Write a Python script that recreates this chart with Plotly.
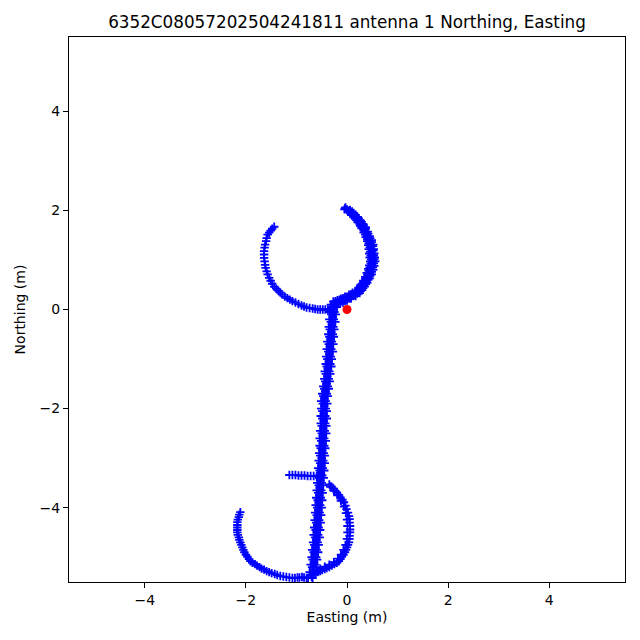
import plotly.graph_objects as go

title_text = "6352C08057202504241811 antenna 1 Northing, Easting"
tick_vals = [-4, -2, 0, 2, 4]
tick_labels = ["\u22124", "\u22122", "0", "2", "4"]

# upper arc, right (thick) side: several overlapping passes
arc1a_e = [-0.03, 0.06, 0.13, 0.21, 0.27, 0.32, 0.37, 0.41, 0.45, 0.49, 0.52, 0.53, 0.54, 0.55, 0.56,
           0.54, 0.52, 0.49, 0.45, 0.40, 0.35, 0.30, 0.25, 0.17, 0.08, 0.00, -0.08, -0.17, -0.25]
arc1a_n = [2.06, 2.01, 1.95, 1.87, 1.80, 1.73, 1.66, 1.57, 1.48, 1.40, 1.31, 1.22, 1.13, 1.05, 0.97,
           0.88, 0.80, 0.71, 0.63, 0.54, 0.46, 0.39, 0.33, 0.27, 0.22, 0.18, 0.14, 0.11, 0.09]
arc1b_e = [-0.05, 0.02, 0.09, 0.16, 0.21, 0.26, 0.29, 0.33, 0.37, 0.40, 0.42, 0.43, 0.44, 0.45, 0.46,
           0.44, 0.42, 0.39, 0.36, 0.32, 0.27, 0.23, 0.19, 0.11, 0.04, -0.04, -0.12, -0.19, -0.27]
arc1b_n = [2.02, 1.97, 1.91, 1.83, 1.76, 1.69, 1.64, 1.55, 1.46, 1.38, 1.30, 1.22, 1.13, 1.05, 0.97,
           0.89, 0.82, 0.74, 0.66, 0.58, 0.50, 0.44, 0.38, 0.34, 0.30, 0.26, 0.22, 0.19, 0.16]
arc1c_e = [-0.04, 0.04, 0.11, 0.18, 0.24, 0.29, 0.33, 0.37, 0.41, 0.44, 0.47, 0.48, 0.49, 0.50, 0.51,
           0.49, 0.47, 0.44, 0.41, 0.36, 0.31, 0.27, 0.22, 0.14, 0.06, -0.02, -0.10, -0.18, -0.26]
arc1c_n = [2.04, 1.99, 1.93, 1.85, 1.78, 1.71, 1.65, 1.56, 1.47, 1.39, 1.31, 1.22, 1.13, 1.05, 0.97,
           0.89, 0.81, 0.73, 0.65, 0.56, 0.48, 0.42, 0.36, 0.31, 0.26, 0.22, 0.18, 0.15, 0.12]
arc1d_e = [0.00, 0.08, 0.15, 0.21, 0.27, 0.31, 0.35, 0.39, 0.43, 0.46, 0.48, 0.49, 0.50, 0.51, 0.50,
           0.48, 0.46, 0.43, 0.39, 0.34, 0.29, 0.25, 0.18, 0.10, 0.02, -0.06, -0.14, -0.22]
arc1d_n = [2.02, 1.96, 1.89, 1.82, 1.75, 1.68, 1.61, 1.52, 1.43, 1.35, 1.27, 1.18, 1.09, 1.01, 0.93,
           0.85, 0.77, 0.69, 0.61, 0.52, 0.45, 0.39, 0.34, 0.29, 0.24, 0.20, 0.17, 0.14]
arc1e_e = [0.10, 0.17, 0.23, 0.29, 0.33, 0.37, 0.42, 0.46, 0.49, 0.51, 0.52, 0.53, 0.54, 0.53,
           0.51, 0.49, 0.46, 0.42, 0.37, 0.32, 0.27, 0.20, 0.12, 0.04, -0.04, -0.13, -0.21]
arc1e_n = [1.98, 1.91, 1.84, 1.77, 1.70, 1.63, 1.53, 1.44, 1.36, 1.28, 1.19, 1.09, 1.01, 0.93,
           0.85, 0.76, 0.68, 0.60, 0.51, 0.43, 0.37, 0.32, 0.27, 0.22, 0.17, 0.14, 0.11]
arc1f_e = [0.06, 0.13, 0.19, 0.25, 0.29, 0.33, 0.36, 0.40, 0.43, 0.45, 0.46, 0.47, 0.48, 0.47,
           0.45, 0.43, 0.40, 0.36, 0.31, 0.26, 0.23, 0.16, 0.08, 0.00, -0.08, -0.15, -0.23]
arc1f_n = [1.94, 1.87, 1.80, 1.73, 1.66, 1.59, 1.51, 1.42, 1.34, 1.26, 1.17, 1.09, 1.01, 0.93,
           0.85, 0.78, 0.70, 0.62, 0.53, 0.47, 0.41, 0.36, 0.31, 0.26, 0.23, 0.20, 0.17]
# upper arc, left (thin) side
arc2_e = [-0.33, -0.38, -0.43, -0.48, -0.53, -0.58, -0.63, -0.68, -0.74, -0.80, -0.85, -0.90, -0.96,
          -1.02, -1.08, -1.13, -1.18, -1.23, -1.28, -1.32, -1.36, -1.40, -1.44, -1.48, -1.51, -1.54,
          -1.57, -1.59, -1.61, -1.62, -1.63, -1.64, -1.64, -1.64, -1.63, -1.62, -1.60, -1.59, -1.57,
          -1.54, -1.51, -1.48, -1.44]
arc2_n = [0.01, 0.00, 0.00, 0.00, 0.00, 0.00, 0.01, 0.02, 0.03, 0.04, 0.06, 0.08, 0.11,
          0.14, 0.17, 0.20, 0.23, 0.26, 0.30, 0.34, 0.38, 0.42, 0.46, 0.52, 0.58, 0.64,
          0.71, 0.77, 0.84, 0.90, 0.97, 1.04, 1.11, 1.18, 1.25, 1.31, 1.38, 1.44, 1.51,
          1.55, 1.59, 1.63, 1.67]
# stem: five overlapping passes
stema_e = [-0.32, -0.34, -0.35, -0.36, -0.37, -0.39, -0.40, -0.41, -0.42, -0.44, -0.45, -0.47, -0.49,
           -0.51, -0.51, -0.52, -0.52, -0.53, -0.54, -0.54, -0.55, -0.56, -0.57, -0.58, -0.59, -0.60,
           -0.61, -0.62, -0.63, -0.64, -0.65, -0.66, -0.67, -0.69, -0.70, -0.72, -0.74, -0.77]
stema_n = [0.10, -0.05, -0.20, -0.35, -0.50, -0.65, -0.80, -0.95, -1.10, -1.25, -1.40, -1.55, -1.70,
           -1.85, -2.00, -2.15, -2.30, -2.45, -2.60, -2.75, -2.90, -3.05, -3.20, -3.35, -3.50, -3.65,
           -3.80, -3.95, -4.10, -4.25, -4.40, -4.55, -4.70, -4.85, -5.00, -5.15, -5.30, -5.42]
stemb_e = [-0.20, -0.22, -0.23, -0.25, -0.26, -0.27, -0.28, -0.30, -0.31, -0.33, -0.34, -0.36, -0.38,
           -0.39, -0.40, -0.40, -0.41, -0.41, -0.42, -0.43, -0.44, -0.44, -0.45, -0.46, -0.47, -0.48,
           -0.49, -0.50, -0.51, -0.52, -0.53, -0.54, -0.56, -0.57, -0.59, -0.60, -0.63]
stemb_n = [0.05, -0.10, -0.25, -0.40, -0.55, -0.70, -0.85, -1.00, -1.15, -1.30, -1.45, -1.60, -1.75,
           -1.90, -2.05, -2.20, -2.35, -2.50, -2.65, -2.80, -2.95, -3.10, -3.25, -3.40, -3.55, -3.70,
           -3.85, -4.00, -4.15, -4.30, -4.45, -4.60, -4.75, -4.90, -5.05, -5.20, -5.35]
stemc_e = [-0.27, -0.28, -0.30, -0.31, -0.32, -0.34, -0.35, -0.36, -0.38, -0.39, -0.41, -0.43, -0.45,
           -0.45, -0.46, -0.46, -0.47, -0.48, -0.48, -0.49, -0.50, -0.51, -0.52, -0.53, -0.54, -0.55,
           -0.56, -0.57, -0.58, -0.59, -0.60, -0.61, -0.62, -0.64, -0.65, -0.67, -0.70]
stemc_n = [0.00, -0.15, -0.30, -0.45, -0.60, -0.75, -0.90, -1.05, -1.20, -1.35, -1.50, -1.65, -1.80,
           -1.95, -2.10, -2.25, -2.40, -2.55, -2.70, -2.85, -3.00, -3.15, -3.30, -3.45, -3.60, -3.75,
           -3.90, -4.05, -4.20, -4.35, -4.50, -4.65, -4.80, -4.95, -5.10, -5.25, -5.40]
stemd_e = [-0.30, -0.31, -0.32, -0.34, -0.35, -0.36, -0.37, -0.39, -0.40, -0.42, -0.43, -0.45, -0.47,
           -0.48, -0.49, -0.49, -0.50, -0.50, -0.51, -0.52, -0.53, -0.53, -0.54, -0.55, -0.56, -0.57,
           -0.58, -0.59, -0.60, -0.61, -0.62, -0.63, -0.65, -0.66, -0.68, -0.69, -0.72]
stemd_n = [0.05, -0.10, -0.25, -0.40, -0.55, -0.70, -0.85, -1.00, -1.15, -1.30, -1.45, -1.60, -1.75,
           -1.90, -2.05, -2.20, -2.35, -2.50, -2.65, -2.80, -2.95, -3.10, -3.25, -3.40, -3.55, -3.70,
           -3.85, -4.00, -4.15, -4.30, -4.45, -4.60, -4.75, -4.90, -5.05, -5.20, -5.35]
steme_e = [-0.23, -0.25, -0.26, -0.27, -0.28, -0.30, -0.31, -0.32, -0.33, -0.35, -0.36, -0.38, -0.40,
           -0.42, -0.42, -0.43, -0.43, -0.44, -0.45, -0.45, -0.46, -0.47, -0.48, -0.49, -0.50, -0.51,
           -0.52, -0.53, -0.54, -0.55, -0.56, -0.57, -0.58, -0.60, -0.61, -0.63, -0.65, -0.68]
steme_n = [0.10, -0.05, -0.20, -0.35, -0.50, -0.65, -0.80, -0.95, -1.10, -1.25, -1.40, -1.55, -1.70,
           -1.85, -2.00, -2.15, -2.30, -2.45, -2.60, -2.75, -2.90, -3.05, -3.20, -3.35, -3.50, -3.65,
           -3.80, -3.95, -4.10, -4.25, -4.40, -4.55, -4.70, -4.85, -5.00, -5.15, -5.30, -5.42]
# short stub at about -3.35
stub_e = [-1.14, -1.08, -1.02, -0.96, -0.90, -0.84, -0.78, -0.72, -0.66, -0.60]
stub_n = [-3.34, -3.34, -3.34, -3.35, -3.35, -3.35, -3.36, -3.36, -3.36, -3.37]
# lower arc, right side
arc3_e = [-0.35, -0.31, -0.27, -0.24, -0.20, -0.16, -0.13, -0.09, -0.06, -0.03, -0.01, 0.02, 0.04,
          0.05, 0.05, 0.06, 0.06, 0.06, 0.05, 0.05, 0.04, 0.02, 0.00, -0.02, -0.04, -0.07, -0.10,
          -0.13, -0.16, -0.20, -0.25, -0.30, -0.35, -0.40, -0.44, -0.49, -0.53, -0.58, -0.62]
arc3_n = [-3.53, -3.57, -3.61, -3.65, -3.69, -3.74, -3.79, -3.84, -3.89, -3.96, -4.03, -4.10, -4.17,
          -4.23, -4.30, -4.37, -4.44, -4.50, -4.57, -4.63, -4.70, -4.75, -4.80, -4.85, -4.90, -4.95, -4.99,
          -5.04, -5.08, -5.11, -5.14, -5.17, -5.20, -5.22, -5.24, -5.26, -5.28, -5.30, -5.32]
arc3b_e = [-0.33, -0.26, -0.19, -0.12, -0.06, -0.02, 0.00, 0.01, 0.01, 0.00, -0.03, -0.07, -0.12,
           -0.18, -0.26, -0.35, -0.44, -0.53]
arc3b_n = [-3.58, -3.66, -3.75, -3.86, -3.98, -4.11, -4.24, -4.37, -4.50, -4.63, -4.75, -4.85, -4.95,
           -5.03, -5.10, -5.15, -5.19, -5.23]
# lower arc, left side
arc4_e = [-0.80, -0.85, -0.89, -0.94, -0.98, -1.03, -1.08, -1.14, -1.20, -1.26, -1.32, -1.38, -1.43,
          -1.49, -1.54, -1.59, -1.64, -1.69, -1.73, -1.78, -1.82, -1.87, -1.91, -1.94, -1.97, -2.00,
          -2.03, -2.05, -2.07, -2.09, -2.11, -2.13, -2.14, -2.16, -2.17, -2.17, -2.17, -2.17, -2.17,
          -2.16, -2.14, -2.13, -2.11]
arc4_n = [-5.42, -5.41, -5.40, -5.41, -5.41, -5.42, -5.42, -5.41, -5.40, -5.39, -5.38, -5.36, -5.34,
          -5.32, -5.30, -5.28, -5.25, -5.23, -5.20, -5.17, -5.14, -5.11, -5.08, -5.04, -4.99, -4.95,
          -4.90, -4.85, -4.80, -4.75, -4.70, -4.65, -4.60, -4.55, -4.50, -4.45, -4.40, -4.35, -4.29,
          -4.24, -4.19, -4.14, -4.09]

origin_e = [0.0]
origin_n = [0.0]

easting = (arc1a_e + arc1b_e + arc1c_e + arc1d_e + arc1e_e + arc1f_e + arc2_e
           + stema_e + stemb_e + stemc_e + stemd_e + steme_e
           + stub_e + arc3_e + arc3b_e + arc4_e)
northing = (arc1a_n + arc1b_n + arc1c_n + arc1d_n + arc1e_n + arc1f_n + arc2_n
            + stema_n + stemb_n + stemc_n + stemd_n + steme_n
            + stub_n + arc3_n + arc3b_n + arc4_n)

fig = go.Figure()
fig.add_trace(go.Scatter(
    x=easting, y=northing, mode="markers",
    marker=dict(symbol="cross-thin", size=6, line=dict(color="blue", width=1.8), color="blue"),
    showlegend=False, hoverinfo="skip"))
fig.add_trace(go.Scatter(
    x=origin_e, y=origin_n, mode="markers",
    marker=dict(symbol="circle", size=9, color="red"),
    showlegend=False))

font_family = "DejaVu Sans"
axis_common = dict(
    tickmode="array", tickvals=tick_vals, ticktext=tick_labels,
    range=[-5.5, 5.5], showgrid=False, zeroline=False,
    showline=True, linecolor="black", linewidth=1, mirror=True,
    ticks="outside", ticklen=5, tickwidth=1, tickcolor="black",
    tickfont=dict(family=font_family, size=14, color="black"),
)

W = 632
fig.update_layout(
    width=W, height=W,
    margin=dict(l=58, r=15, t=29, b=58),
    paper_bgcolor="white", plot_bgcolor="white",
    title=dict(text=title_text, x=0.5, xref="paper", xanchor="center",
               y=1 - 14 / W, yref="container", yanchor="middle",
               font=dict(family=font_family, size=16.8, color="black")),
    xaxis=dict(**axis_common,
               title=dict(text="Easting (m)", standoff=5,
                          font=dict(family=font_family, size=14, color="black"))),
    yaxis=dict(**axis_common,
               title=dict(text="Northing (m)", standoff=10,
                          font=dict(family=font_family, size=14, color="black"))),
)

fig.write_html("out.html")
